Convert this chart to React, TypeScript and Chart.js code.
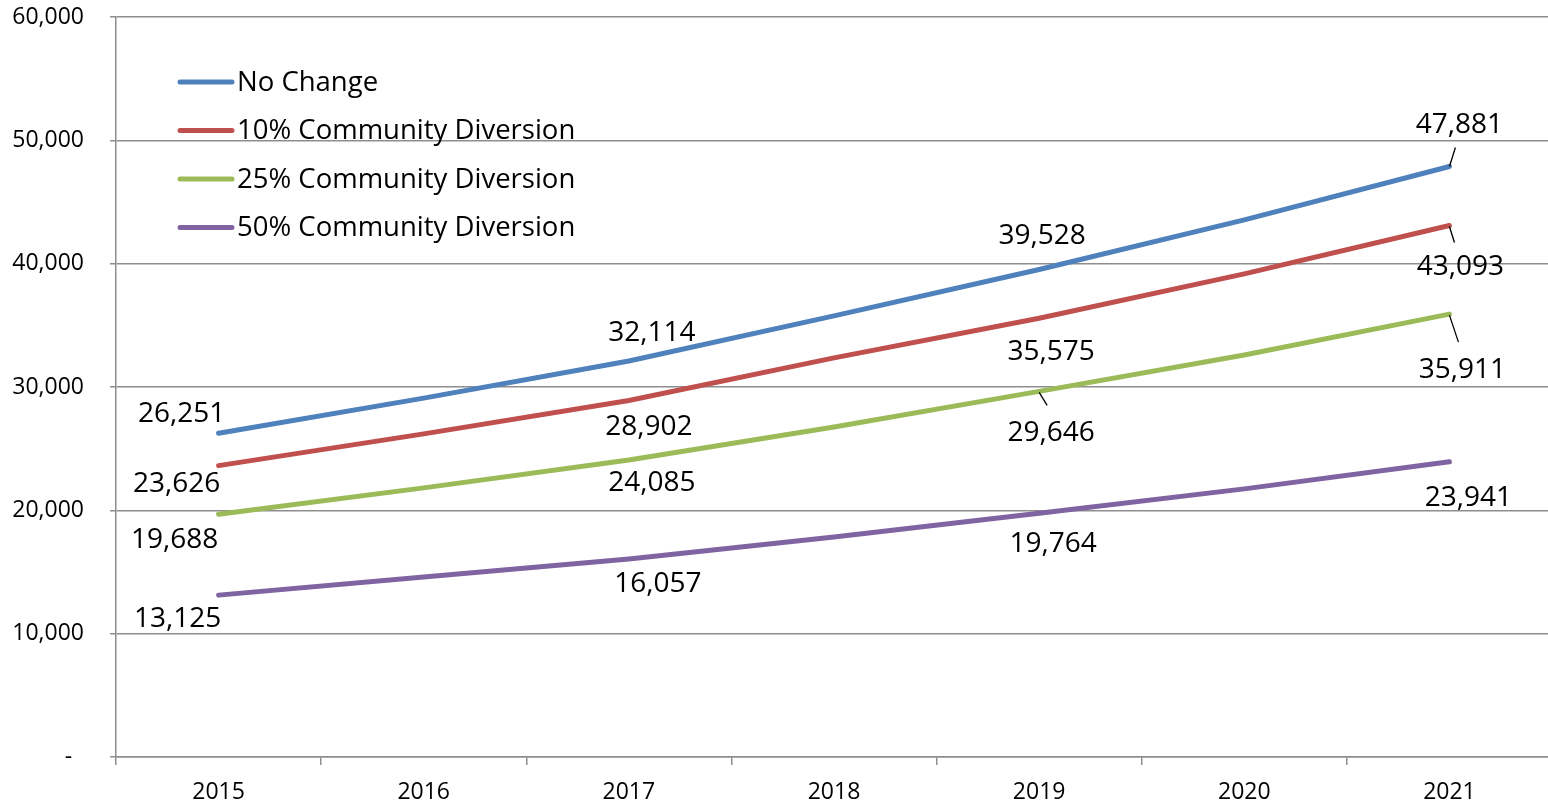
import React, { useEffect, useRef } from "react";
import { Chart, registerables } from "chart.js";

Chart.register(...registerables);

const years = ["2015", "2016", "2017", "2018", "2019", "2020", "2021"];
const noChange = [26251, 29100, 32114, 35770, 39528, 43550, 47881];
const diversion10 = [23626, 26200, 28902, 32360, 35575, 39170, 43093];
const diversion25 = [19688, 21820, 24085, 26760, 29646, 32600, 35911];
const diversion50 = [13125, 14600, 16057, 17840, 19764, 21740, 23941];
const seriesNames = ["No Change", "10% Community Diversion", "25% Community Diversion", "50% Community Diversion"];
const seriesColors = ["#4F81BD", "#C0504D", "#9BBB59", "#8064A2"];
const labelledIndexes = [0, 2, 4, 6];
const yTicks = [0, 10000, 20000, 30000, 40000, 50000, 60000];

// label offsets relative to the point (styling only): [series][labelIdxPos] = [dx, dy]
const labelOffsets = [
  [[-37, -21], [23, -30], [3, -35], [10, -43]],
  [[-42, 16], [20, 24], [12, 32], [11, 40]],
  [[-44, 24], [23, 21], [12, 40], [13, 54]],
  [[-41, 22], [29, 23], [14, 29], [19, 34]],
];
// leader lines: [series, labelIdxPos, x0, y0, x1, y1] relative to the point
const leaders = [
  [0, 3, 0, 0, 6, -19],
  [1, 3, 0, 1, 5, 17],
  [2, 3, 0, 1, 9, 28],
  [2, 2, 0, 1, 8, 14],
];

const FONT = "'Open Sans', 'Noto Sans', sans-serif";

const labelPlugin = {
  id: "valueLabels",
  afterDatasetsDraw(chart: any) {
    const ctx = chart.ctx;
    ctx.save();
    ctx.font = `28px ${FONT}`;
    ctx.fillStyle = "#000";
    ctx.textAlign = "center";
    ctx.textBaseline = "middle";
    chart.data.datasets.forEach((ds: any, si: number) => {
      const meta = chart.getDatasetMeta(si);
      labelledIndexes.forEach((idx, k) => {
        const pt = meta.data[idx];
        const [dx, dy] = labelOffsets[si][k];
        ctx.fillText(Number(ds.data[idx]).toLocaleString("en-US"), pt.x + dx, pt.y + dy + 2);
      });
    });
    ctx.strokeStyle = "#000";
    ctx.lineWidth = 1.3;
    leaders.forEach(([si, k, x0, y0, x1, y1]) => {
      const pt = chart.getDatasetMeta(si).data[labelledIndexes[k]];
      ctx.beginPath();
      ctx.moveTo(pt.x + x0, pt.y + y0);
      ctx.lineTo(pt.x + x1, pt.y + y1);
      ctx.stroke();
    });
    ctx.restore();
  },
};

const legendPlugin = {
  id: "insideLegend",
  afterDraw(chart: any) {
    const ctx = chart.ctx;
    const { left, top } = chart.chartArea;
    ctx.save();
    ctx.font = `27.5px ${FONT}`;
    ctx.textAlign = "left";
    ctx.textBaseline = "middle";
    chart.data.datasets.forEach((ds: any, i: number) => {
      const y = top + 65 + i * 48.5;
      ctx.strokeStyle = ds.borderColor;
      ctx.lineWidth = 5;
      ctx.lineCap = "round";
      ctx.beginPath();
      ctx.moveTo(left + 64, y);
      ctx.lineTo(left + 116, y);
      ctx.stroke();
      ctx.fillStyle = "#000";
      ctx.fillText(ds.label, left + 121, y + 1);
    });
    ctx.restore();
  },
};

export default function App() {
  const ref = useRef<HTMLCanvasElement>(null);
  useEffect(() => {
    document.body.style.margin = "0";
    document.body.style.overflow = "hidden";
    const series = [noChange, diversion10, diversion25, diversion50];
    const chart = new Chart(ref.current!, {
      type: "line",
      data: {
        labels: years,
        datasets: series.map((d, i) => ({
          label: seriesNames[i],
          data: d,
          borderColor: seriesColors[i],
          backgroundColor: seriesColors[i],
          borderWidth: 5,
          borderCapStyle: "round",
          pointRadius: 0,
          tension: 0,
          fill: false,
        })),
      },
      options: {
        animation: false,
        responsive: false,
        maintainAspectRatio: false,
        layout: { padding: { top: 17, right: 1, left: 0, bottom: 0 } },
        plugins: { legend: { display: false }, tooltip: { enabled: false } },
        scales: {
          x: {
            type: "category",
            offset: true,
            grid: {
              offset: true,
              drawOnChartArea: false,
              drawTicks: true,
              tickLength: 8,
              color: "#8E8E8E",
              lineWidth: 1.5,
            },
            border: { display: true, color: "#8E8E8E", width: 1.5 },
            ticks: { color: "#000", font: { family: FONT, size: 23 }, padding: 14, maxRotation: 0 },
            afterFit: (s: any) => {
              s.height = 47;
              s.paddingLeft = 0;
              s.paddingRight = 0;
            },
          },
          y: {
            min: 0,
            max: 60000,
            afterBuildTicks: (s: any) => {
              s.ticks = yTicks.map((v) => ({ value: v }));
            },
            grid: { color: "#8E8E8E", lineWidth: 1.5, tickLength: 6 },
            border: { display: true, color: "#8E8E8E", width: 1.5 },
            ticks: {
              color: "#000",
              font: { family: FONT, size: 23 },
              padding: 26,
              callback: (v: any) => (Number(v) === 0 ? "-  " : Number(v).toLocaleString("en-US")),
            },
            afterFit: (s: any) => {
              s.width = 116;
              s.paddingTop = 0;
              s.paddingBottom = 0;
            },
          },
        },
      },
      plugins: [labelPlugin, legendPlugin],
    });
    return () => chart.destroy();
  }, []);
  return (
    <div style={{ width: 1548, height: 804, overflow: "hidden", background: "#fff" }}>
      <canvas ref={ref} width={1553} height={804} style={{ display: "block" }} />
    </div>
  );
}
